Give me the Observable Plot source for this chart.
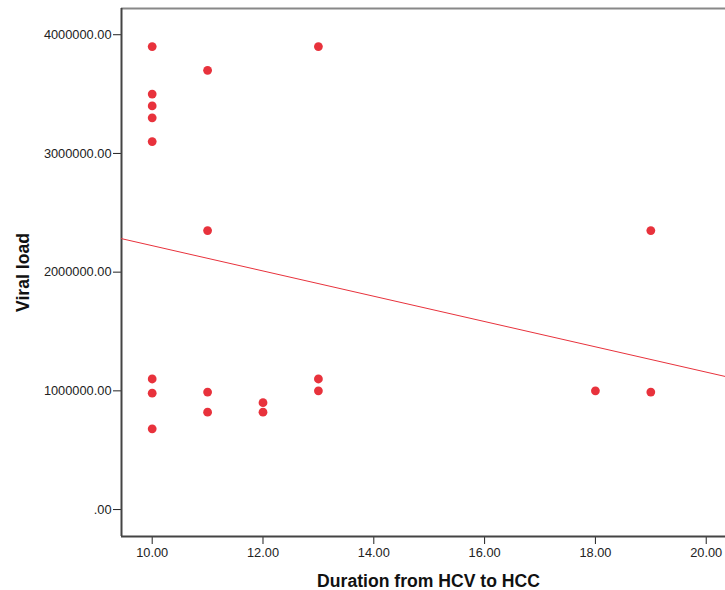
<!DOCTYPE html>
<html><head><meta charset="utf-8">
<script src="https://cdn.jsdelivr.net/npm/d3@7"></script>
<script src="https://cdn.jsdelivr.net/npm/@observablehq/plot@0.6"></script>
<style>body{margin:0;background:#fff;}</style>
</head><body><div id="chart"></div>
<script>
const duration = [10,10,10,10,10,10,10,10, 11,11,11,11, 12,12, 13,13,13, 18, 19,19];
const viralLoad = [3900000,3500000,3400000,3300000,3100000,1100000,980000,680000,
                   3700000,2350000,990000,820000,
                   900000,820000,
                   3900000,1100000,1000000,
                   1000000,
                   2350000,990000];
const xTicks = [10,12,14,16,18,20];
const yTicks = [0,1000000,2000000,3000000,4000000];
const xTitle = "Duration from HCV to HCC";
const yTitle = "Viral load";

const xDomain = [9.446, 20.348];
const yDomain = [-227000, 4221000];
const red = "#e8323c";

const data = duration.map((d, i) => ({duration: d, load: viralLoad[i]}));
const mx = d3.mean(duration), my = d3.mean(viralLoad);
const slope = d3.sum(duration, (d, i) => (d - mx) * (viralLoad[i] - my)) / d3.sum(duration, d => (d - mx) ** 2);
const intercept = my - slope * mx;
const fit = xDomain.map(x => ({duration: x, load: intercept + slope * x}));

const chart = Plot.plot({
  width: 725, height: 590,
  marginLeft: 121, marginRight: 0, marginTop: 8, marginBottom: 54,
  style: {fontFamily: "'Liberation Sans', Arial, sans-serif", fontSize: "12.8px", color: "#222", background: "#fff"},
  x: {domain: xDomain, ticks: xTicks, tickFormat: d => d.toFixed(2), label: null, tickSize: 8, tickPadding: 3},
  y: {domain: yDomain, ticks: yTicks, tickFormat: d => d === 0 ? ".00" : d.toFixed(2), label: null, tickSize: 8, tickPadding: 2},
  marks: [
    Plot.ruleY([yDomain[1]], {stroke: "#888", strokeWidth: 2}),
    Plot.ruleX([xDomain[0]], {stroke: "#444", strokeWidth: 2}),
    Plot.ruleY([yDomain[0]], {stroke: "#444", strokeWidth: 2}),
    Plot.line(fit, {x: "duration", y: "load", stroke: red, strokeWidth: 1}),
    Plot.dot(data, {x: "duration", y: "load", r: 4.4, fill: red, stroke: "none"}),
    Plot.text([yTitle], {frameAnchor: "left", dx: -98, rotate: -90, text: d => d, fontSize: 17.6, fontWeight: "bold", fill: "#111", textAnchor: "middle", lineAnchor: "middle"}),
    Plot.text([xTitle], {frameAnchor: "bottom", dx: 5, dy: 45, text: d => d, fontSize: 17.6, fontWeight: "bold", fill: "#111", textAnchor: "middle", lineAnchor: "middle"})
  ]
});
document.getElementById("chart").append(chart);
</script>
</body></html>
